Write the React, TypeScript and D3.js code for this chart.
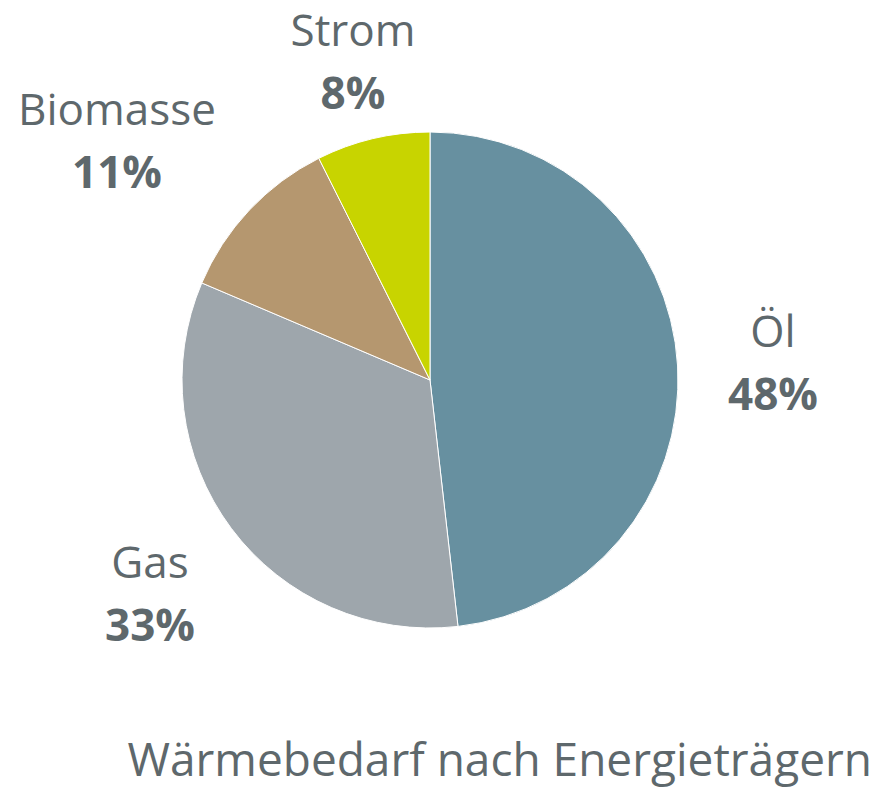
import React from "react";
import * as d3 from "d3";

const categories = ["Öl", "Gas", "Biomasse", "Strom"];
const values = [48.2, 33.2, 11.2, 7.4];
const percentLabels = ["48%", "33%", "11%", "8%"];
const colors = ["#6790A0", "#9EA6AC", "#B5976F", "#C8D400"];
const title = "Wärmebedarf nach Energieträgern";

const W = 882;
const H = 790;
const cx = 430;
const cy = 380;
const R = 248;
const textColor = "#5E686C";
const font = "'Open Sans', 'DejaVu Sans', sans-serif";

// label anchor positions (centre x, baseline of name)
const labelPos: Record<string, [number, number]> = {
  "Öl": [773, 347],
  "Gas": [150, 578],
  "Biomasse": [117, 125],
  "Strom": [353, 46],
};

export default function App() {
  const data = categories.map((c, i) => ({ c, v: values[i], p: percentLabels[i], col: colors[i] }));
  const pie = d3.pie<any>().value((d) => d.v).sort(null).startAngle(0).endAngle(2 * Math.PI);
  const arc = d3.arc<any>().innerRadius(0).outerRadius(R);
  const arcs = pie(data);
  return (
    <svg width={W} height={H} style={{ position: "absolute", left: 0, top: 0, background: "#fff" }}>
      <g transform={`translate(${cx},${cy})`}>
        {arcs.map((a, i) => (
          <path key={i} d={arc(a) as string} fill={a.data.col} stroke="#fff" strokeWidth={1} />
        ))}
      </g>
      {data.map((d, i) => {
        const [x, y] = labelPos[d.c];
        return (
          <g key={i} fontFamily={font} fill={textColor} textAnchor="middle">
            <text x={x} y={y} fontSize={44}>{d.c}</text>
            <text x={x} y={y + 63} fontSize={44} fontWeight="bold">{d.p}</text>
          </g>
        );
      })}
      <text x={872} y={776} textAnchor="end" fontFamily={font} fontSize={46} fill={textColor}>
        {title}
      </text>
    </svg>
  );
}
